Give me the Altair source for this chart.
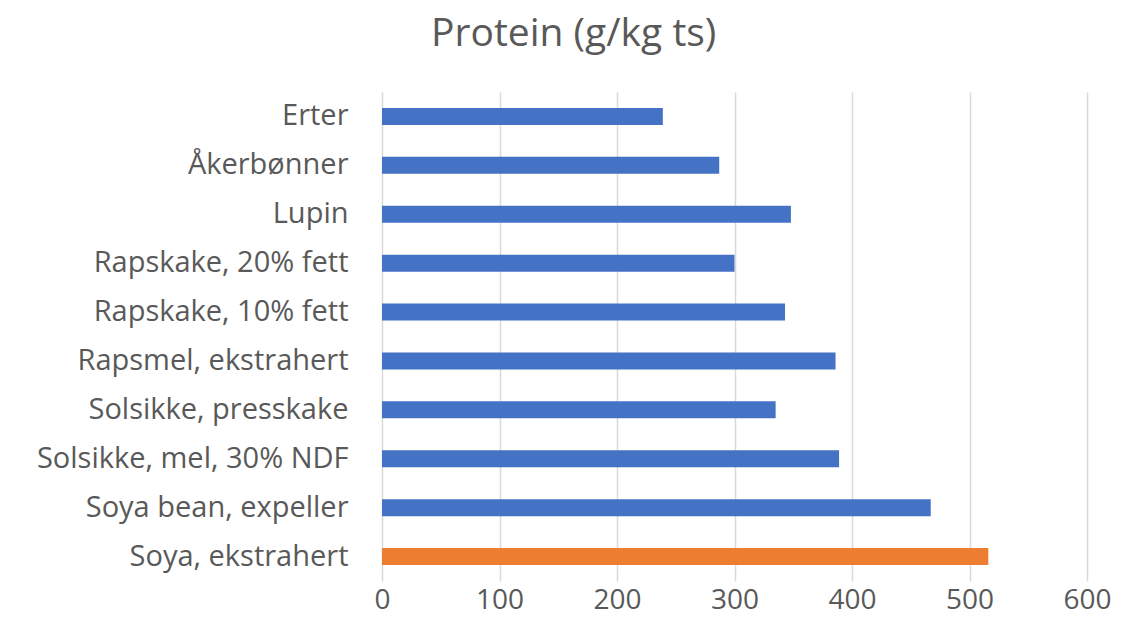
import altair as alt
import pandas as pd

categories = [
    "Erter",
    "Åkerbønner",
    "Lupin",
    "Rapskake, 20% fett",
    "Rapskake, 10% fett",
    "Rapsmel, ekstrahert",
    "Solsikke, presskake",
    "Solsikke, mel, 30% NDF",
    "Soya bean, expeller",
    "Soya, ekstrahert",
]
protein = [239, 287, 348, 300, 343, 386, 335, 389, 467, 516]
group = ["other"] * 9 + ["highlight"]

df = pd.DataFrame({"feed": categories, "protein": protein, "group": group})

FONT = "Open Sans"

chart = (
    alt.Chart(df)
    .mark_bar(size=17)
    .encode(
        y=alt.Y(
            "feed:N",
            sort=categories,
            title=None,
            scale=alt.Scale(paddingInner=0.65, paddingOuter=0.325),
            axis=alt.Axis(
                ticks=False,
                domain=False,
                labelFontSize=29,
                labelColor="#595959",
                labelFont=FONT,
                labelPadding=34,
                labelLimit=400,
            ),
        ),
        x=alt.X(
            "protein:Q",
            title=None,
            scale=alt.Scale(domain=[0, 600], nice=False),
            axis=alt.Axis(
                values=[0, 100, 200, 300, 400, 500, 600],
                ticks=False,
                domain=False,
                grid=True,
                gridColor="#D9D9D9",
                gridWidth=1.5,
                labelFontSize=28,
                labelColor="#595959",
                labelFont=FONT,
                labelPadding=5,
                labelFlush=False,
            ),
        ),
        color=alt.Color(
            "group:N",
            scale=alt.Scale(domain=["other", "highlight"], range=["#4472C4", "#ED7D31"]),
            legend=None,
        ),
    )
    .properties(
        width=705,
        height=489,
        title=alt.TitleParams(
            "Protein (g/kg ts)",
            fontSize=39,
            font=FONT,
            fontWeight="normal",
            color="#595959",
            anchor="middle",
            frame="bounds",
            offset=38,
        ),
        autosize=alt.AutoSizeParams(type="none"),
        padding={"left": 374, "top": 84, "right": 30, "bottom": 40},
    )
    .configure_view(stroke=None)
)

chart.save("out.html", embed_options={"renderer": "svg", "actions": False})
